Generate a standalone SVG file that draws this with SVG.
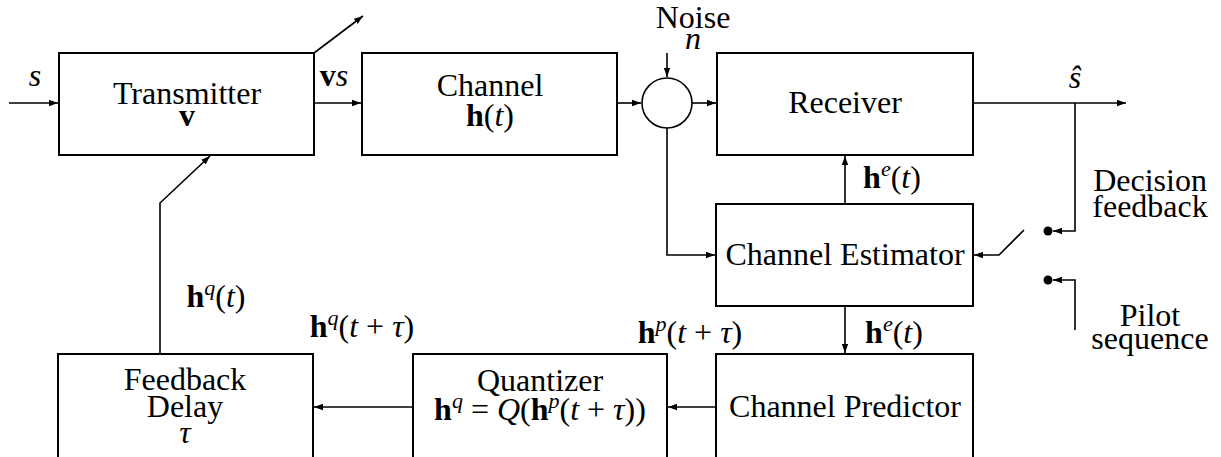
<svg xmlns="http://www.w3.org/2000/svg" width="1221" height="457" viewBox="0 0 1221 457">
<defs>
<marker id="ar" markerWidth="10" markerHeight="8" refX="9" refY="4" orient="auto" markerUnits="userSpaceOnUse">
<path d="M0,0.8 L9,4 L0,7.2 Z" fill="#000"/>
</marker>
</defs>
<rect width="1221" height="457" fill="#fff"/>

<g id="connectors" fill="none" stroke="#000" stroke-width="1.6">
<line x1="9" y1="103" x2="58" y2="103" marker-end="url(#ar)"/>
<line x1="314" y1="53" x2="363" y2="16" marker-end="url(#ar)"/>
<line x1="314" y1="103" x2="361" y2="103" marker-end="url(#ar)"/>
<line x1="617" y1="103" x2="641" y2="103" marker-end="url(#ar)"/>
<line x1="692" y1="103" x2="716" y2="103" marker-end="url(#ar)"/>
<line x1="667" y1="53" x2="667" y2="77" marker-end="url(#ar)"/>
<polyline points="667,128 667,255 715,255" marker-end="url(#ar)"/>
<line x1="845" y1="204" x2="845" y2="156" marker-end="url(#ar)"/>
<line x1="845" y1="306" x2="845" y2="353" marker-end="url(#ar)"/>
<line x1="716" y1="407" x2="668" y2="407" marker-end="url(#ar)"/>
<line x1="413" y1="407" x2="314" y2="407" marker-end="url(#ar)"/>
<polyline points="160,354 160,203 210,156" marker-end="url(#ar)"/>
<line x1="973" y1="103" x2="1126" y2="103" marker-end="url(#ar)"/>
<polyline points="1075,103 1075,231 1053,231" marker-end="url(#ar)"/>
<polyline points="1075,330 1075,280 1053,280" marker-end="url(#ar)"/>
<polyline points="1024,230 999,255 974,255" marker-end="url(#ar)"/>
<circle cx="1048" cy="231" r="4.5" fill="#000" stroke="none"/>
<circle cx="1048" cy="280" r="4.5" fill="#000" stroke="none"/>
</g>

<g text-anchor="middle">
<g id="transmitter">
<rect x="59" y="53" width="255" height="102" fill="#fff" stroke="#000" stroke-width="2"/>
<text font-family="Liberation Serif" font-size="32" x="187" y="104">Transmitter</text>
<text font-family="Liberation Serif" font-size="32" x="187" y="126" font-weight="bold">v</text>
</g>

<g id="channel">
<rect x="362" y="53" width="255" height="102" fill="#fff" stroke="#000" stroke-width="2"/>
<text font-family="Liberation Serif" font-size="32" x="490" y="96">Channel</text>
<text font-family="Liberation Serif" font-size="32" x="490" y="126"><tspan font-weight="bold">h</tspan>(<tspan font-style="italic">t</tspan>)</text>
</g>

<g id="adder">
<circle cx="667" cy="103" r="25" fill="#fff" stroke="#000" stroke-width="1.6"/>
</g>

<g id="receiver">
<rect x="717" y="53" width="256" height="102" fill="#fff" stroke="#000" stroke-width="2"/>
<text font-family="Liberation Serif" font-size="32" x="845" y="113">Receiver</text>
</g>

<g id="estimator">
<rect x="716" y="204" width="257" height="102" fill="#fff" stroke="#000" stroke-width="2"/>
<text font-family="Liberation Serif" font-size="32" x="845" y="265">Channel Estimator</text>
</g>

<g id="predictor">
<rect x="716" y="354" width="257" height="104" fill="#fff" stroke="#000" stroke-width="2"/>
<text font-family="Liberation Serif" font-size="32" x="845" y="417">Channel Predictor</text>
</g>

<g id="quantizer">
<rect x="413" y="354" width="254" height="104" fill="#fff" stroke="#000" stroke-width="2"/>
<text font-family="Liberation Serif" font-size="32" x="540" y="391">Quantizer</text>
<text font-family="Liberation Serif" font-size="32" x="540" y="420"><tspan font-weight="bold">h</tspan><tspan font-size="22" font-style="italic" dy="-12">q</tspan><tspan dy="12"> = </tspan><tspan font-style="italic">Q</tspan>(<tspan font-weight="bold">h</tspan><tspan font-size="22" font-style="italic" dy="-12">p</tspan><tspan dy="12">(</tspan><tspan font-style="italic">t</tspan> + <tspan font-style="italic">&#964;</tspan>))</text>
</g>

<g id="feedback-delay">
<rect x="58" y="354" width="255" height="104" fill="#fff" stroke="#000" stroke-width="2"/>
<text font-family="Liberation Serif" font-size="32" x="185" y="390">Feedback</text>
<text font-family="Liberation Serif" font-size="32" x="185" y="417">Delay</text>
<text font-family="Liberation Serif" font-size="32" x="185" y="443" font-style="italic">&#964;</text>
</g>

<g id="labels">
<text font-family="Liberation Serif" font-size="32" x="35" y="86" font-style="italic">s</text>
<text font-family="Liberation Serif" font-size="32" x="334" y="86"><tspan font-weight="bold">v</tspan><tspan font-style="italic">s</tspan></text>
<text font-family="Liberation Serif" font-size="32" x="693" y="28">Noise</text>
<text font-family="Liberation Serif" font-size="32" x="693" y="49" font-style="italic">n</text>
<text font-family="Liberation Serif" font-size="32" x="1075" y="88" font-style="italic">&#349;</text>
<text font-family="Liberation Serif" font-size="32" x="892" y="188"><tspan font-weight="bold">h</tspan><tspan font-size="22" font-style="italic" dy="-12">e</tspan><tspan dy="12">(</tspan><tspan font-style="italic">t</tspan>)</text>
<text font-family="Liberation Serif" font-size="32" x="894" y="343"><tspan font-weight="bold">h</tspan><tspan font-size="22" font-style="italic" dy="-12">e</tspan><tspan dy="12">(</tspan><tspan font-style="italic">t</tspan>)</text>
<text font-family="Liberation Serif" font-size="32" x="690" y="343"><tspan font-weight="bold">h</tspan><tspan font-size="22" font-style="italic" dy="-12">p</tspan><tspan dy="12">(</tspan><tspan font-style="italic">t</tspan> + <tspan font-style="italic">&#964;</tspan>)</text>
<text font-family="Liberation Serif" font-size="32" x="362" y="337"><tspan font-weight="bold">h</tspan><tspan font-size="22" font-style="italic" dy="-12">q</tspan><tspan dy="12">(</tspan><tspan font-style="italic">t</tspan> + <tspan font-style="italic">&#964;</tspan>)</text>
<text font-family="Liberation Serif" font-size="32" x="216" y="307"><tspan font-weight="bold">h</tspan><tspan font-size="22" font-style="italic" dy="-12">q</tspan><tspan dy="12">(</tspan><tspan font-style="italic">t</tspan>)</text>
<text font-family="Liberation Serif" font-size="32" x="1150" y="191">Decision</text>
<text font-family="Liberation Serif" font-size="32" x="1150" y="217">feedback</text>
<text font-family="Liberation Serif" font-size="32" x="1150" y="326">Pilot</text>
<text font-family="Liberation Serif" font-size="32" x="1150" y="349">sequence</text>
</g>
</g>
</svg>
